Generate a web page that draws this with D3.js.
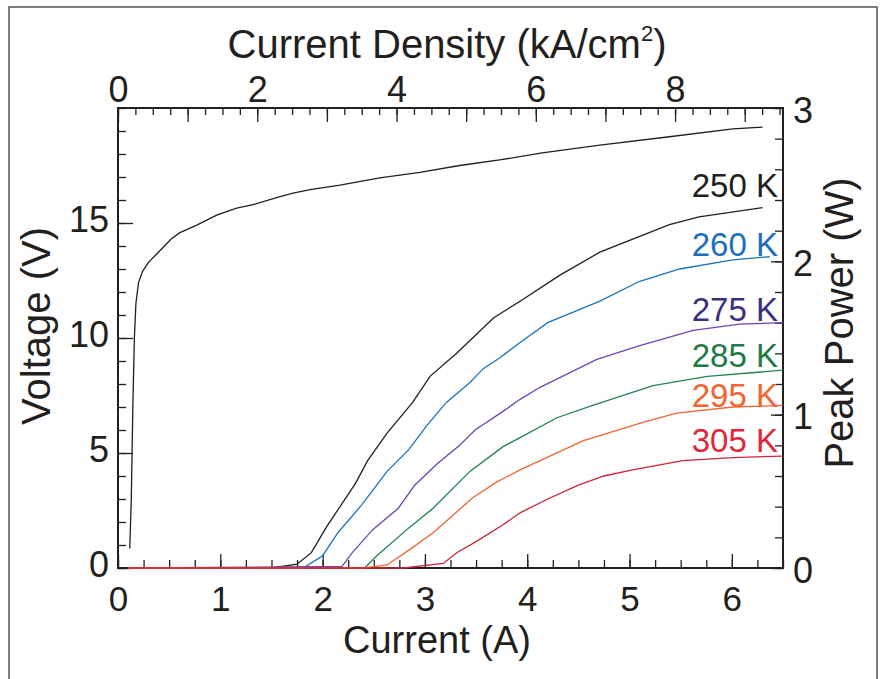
<!DOCTYPE html>
<html>
<head>
<meta charset="utf-8">
<script src="https://cdn.jsdelivr.net/npm/d3@7"></script>
<style>
  body { margin: 0; background: #ffffff; }
  text { font-family: "Liberation Sans", Arial, sans-serif; }
</style>
</head>
<body>
<svg id="chart"></svg>
<script>
// Define the dimensions and the plot box
const width = 884, height = 679;
const margin = {top: 108, bottom: 111, left: 118, right: 101};
const ink = "#231f20";

// Voltage vs current (left axis)
const voltCurve = [[0.115, 0.85], [0.13, 3.0], [0.145, 7.0], [0.16, 10.0], [0.175, 11.5], [0.2, 12.4],
  [0.24, 12.9], [0.3, 13.3], [0.4, 13.75], [0.52, 14.3], [0.6, 14.57], [0.77, 14.91], [0.97, 15.35],
  [1.16, 15.65], [1.32, 15.8], [1.55, 16.1], [1.71, 16.3], [1.88, 16.45], [2.17, 16.65], [2.56, 16.96],
  [2.95, 17.2], [3.34, 17.5], [3.73, 17.74], [4.13, 18.04], [4.71, 18.39], [5.37, 18.74], [6.01, 19.09],
  [6.3, 19.17]];

// Peak power vs current (right axis), one array per heat sink temperature
const power250 = [[0.1, 0], [1.5, 0], [1.75, 0.025], [1.89, 0.1], [2.04, 0.27], [2.19, 0.42], [2.32, 0.55],
  [2.44, 0.7], [2.63, 0.88], [2.88, 1.08], [3.05, 1.25], [3.31, 1.4], [3.67, 1.63], [3.93, 1.74],
  [4.32, 1.91], [4.71, 2.06], [5.39, 2.24], [5.68, 2.29], [6.3, 2.35]];
const power260 = [[0.1, 0], [1.81, 0], [2.0, 0.08], [2.15, 0.23], [2.38, 0.41], [2.63, 0.63], [2.84, 0.77],
  [3.02, 0.93], [3.21, 1.08], [3.44, 1.21], [3.57, 1.3], [3.73, 1.37], [3.93, 1.47], [4.2, 1.6],
  [4.71, 1.74], [5.1, 1.87], [5.49, 1.95], [6.01, 2.01], [6.37, 2.03]];
const power275 = [[0.1, 0], [2.19, 0.01], [2.29, 0.1], [2.49, 0.25], [2.74, 0.39], [2.9, 0.54], [3.12, 0.68],
  [3.34, 0.8], [3.49, 0.9], [3.76, 1.02], [3.93, 1.1], [4.13, 1.18], [4.68, 1.36], [5.1, 1.45],
  [5.62, 1.55], [6.08, 1.59], [6.5, 1.6]];
const power285 = [[0.1, 0], [2.41, 0], [2.53, 0.08], [2.84, 0.26], [3.08, 0.39], [3.44, 0.63], [3.76, 0.79],
  [3.93, 0.85], [4.29, 0.98], [4.64, 1.06], [5.23, 1.19], [5.76, 1.25], [6.5, 1.29]];
const power295 = [[0.1, 0], [2.4, 0], [2.63, 0.02], [2.85, 0.12], [3.08, 0.23], [3.25, 0.33], [3.47, 0.46],
  [3.7, 0.56], [3.93, 0.64], [4.55, 0.83], [5.13, 0.95], [5.46, 1.01], [6.01, 1.05], [6.5, 1.06]];
const power305 = [[0.1, 0], [2.79, 0], [3.18, 0.03], [3.31, 0.1], [3.52, 0.18], [3.76, 0.28], [3.93, 0.36],
  [4.2, 0.45], [4.5, 0.54], [4.75, 0.6], [5.03, 0.64], [5.52, 0.7], [6.01, 0.72], [6.5, 0.73]];

const temps = ["250 K", "260 K", "275 K", "285 K", "295 K", "305 K"];
const labelPower = [2.42, 2.035, 1.61, 1.31, 1.05, 0.757];   // where each label sits, in W
const lineColors = [ink, "#1b75bc", "#6d45b5", "#20844d", "#f26531", "#cf2339"];
const textColors = [ink, "#1b6fbd", "#3b2f80", "#1f7a45", "#f26531", "#e1253b"];

const currentTicks = [0, 1, 2, 3, 4, 5, 6];
const densityTicks = [0, 2, 4, 6, 8];
const voltTicks = [0, 5, 10, 15];
const powerTicks = [0, 1, 2, 3];

// Create the SVG container
const svg = d3.select("#chart")
    .attr("width", width)
    .attr("height", height)
    .style("background", "#ffffff");

// outer figure border
svg.append("rect")
    .attr("x", 9).attr("y", 7)
    .attr("width", 868).attr("height", 720)
    .attr("fill", "none")
    .attr("stroke", "#555")
    .attr("stroke-width", 1.5);

const xScale = d3.scaleLinear().domain([0, 6.5]).range([margin.left, width - margin.right]);
const xTop = d3.scaleLinear().domain([0, 9.55]).range([margin.left, width - margin.right]);
const yLeft = d3.scaleLinear().domain([0, 20]).range([height - margin.bottom, margin.top]);
const yRight = d3.scaleLinear().domain([0, 3]).range([height - margin.bottom, margin.top]);

const bottomY = height - margin.bottom, rightX = width - margin.right;

// axes: minor ticks without labels, then major ticks with labels (ticks point inward)
function addAxis(gen, scale, values, size, pos, labelled) {
  const g = svg.append("g")
      .attr("transform", pos)
      .call(gen(scale).tickValues(values).tickSize(-size).tickFormat(labelled ? d3.format("d") : ""));
  g.select(".domain").remove();
  g.attr("color", ink).attr("font-size", 36).attr("font-family", null);
  g.selectAll("line").attr("stroke-width", 1.3);
  return g;
}

addAxis(d3.axisBottom, xScale, d3.range(0, 6.51, 0.25), 8, `translate(0,${bottomY})`, false);
addAxis(d3.axisBottom, xScale, currentTicks, 14, `translate(0,${bottomY})`, true)
    .attr("font-size", 35)
    .selectAll("text").attr("y", 43).attr("dy", 0);

addAxis(d3.axisTop, xTop, d3.range(0, 9.51, 0.25), 7, `translate(0,${margin.top})`, false);
addAxis(d3.axisTop, xTop, d3.range(0, 10), 14, `translate(0,${margin.top})`, false);
addAxis(d3.axisTop, xTop, densityTicks, 0, `translate(0,${margin.top})`, true)
    .selectAll("text").attr("y", -6).attr("dy", 0);

addAxis(d3.axisLeft, yLeft, d3.range(0, 21, 1), 8, `translate(${margin.left},0)`, false);
addAxis(d3.axisLeft, yLeft, voltTicks, 15, `translate(${margin.left},0)`, true)
    .selectAll("text").attr("x", -9).attr("y", 8).attr("dy", 0);

addAxis(d3.axisRight, yRight, d3.range(0, 3.01, 0.2), 8, `translate(${rightX},0)`, false);
addAxis(d3.axisRight, yRight, powerTicks, 12, `translate(${rightX},0)`, true)
    .selectAll("text").attr("x", 10).attr("y", 14).attr("dy", 0);

// plot frame
svg.append("rect")
    .attr("x", margin.left).attr("y", margin.top)
    .attr("width", rightX - margin.left).attr("height", bottomY - margin.top)
    .attr("fill", "none")
    .attr("stroke", ink)
    .attr("stroke-width", 2);

// Add the lines
const vLine = d3.line().x(d => xScale(d[0])).y(d => yLeft(d[1]));
const pLine = d3.line().x(d => xScale(d[0])).y(d => yRight(d[1]));

svg.append("path")
    .datum(voltCurve)
    .attr("fill", "none")
    .attr("stroke", ink)
    .attr("stroke-width", 1.3)
    .attr("d", vLine);

const powerSeries = [power250, power260, power275, power285, power295, power305];
powerSeries.forEach((s, i) => {
  svg.append("path")
      .datum(s)
      .attr("fill", "none")
      .attr("stroke", lineColors[i])
      .attr("stroke-width", 1.3)
      .attr("d", pLine);
  svg.append("text")
      .attr("x", rightX - 5)
      .attr("y", yRight(labelPower[i]))
      .attr("text-anchor", "end")
      .attr("font-size", 33)
      .attr("fill", textColors[i])
      .text(temps[i]);
});

// Add titles
svg.append("text")
    .attr("x", 437)
    .attr("y", 653)
    .attr("text-anchor", "middle")
    .attr("font-size", 38)
    .attr("fill", ink)
    .text("Current (A)");

const topTitle = svg.append("text")
    .attr("x", 447)
    .attr("y", 58)
    .attr("text-anchor", "middle")
    .attr("font-size", 40)
    .attr("fill", ink);
topTitle.append("tspan").text("Current Density (kA/cm");
topTitle.append("tspan").attr("font-size", 22).attr("dy", -17).text("2");
topTitle.append("tspan").attr("dy", 17).text(")");

svg.append("text")
    .attr("transform", "translate(50,326) rotate(-90)")
    .attr("text-anchor", "middle")
    .attr("font-size", 40)
    .attr("fill", ink)
    .text("Voltage (V)");

svg.append("text")
    .attr("transform", "translate(853,323) rotate(-90)")
    .attr("text-anchor", "middle")
    .attr("font-size", 40)
    .attr("fill", ink)
    .text("Peak Power (W)");
</script>
</body>
</html>
